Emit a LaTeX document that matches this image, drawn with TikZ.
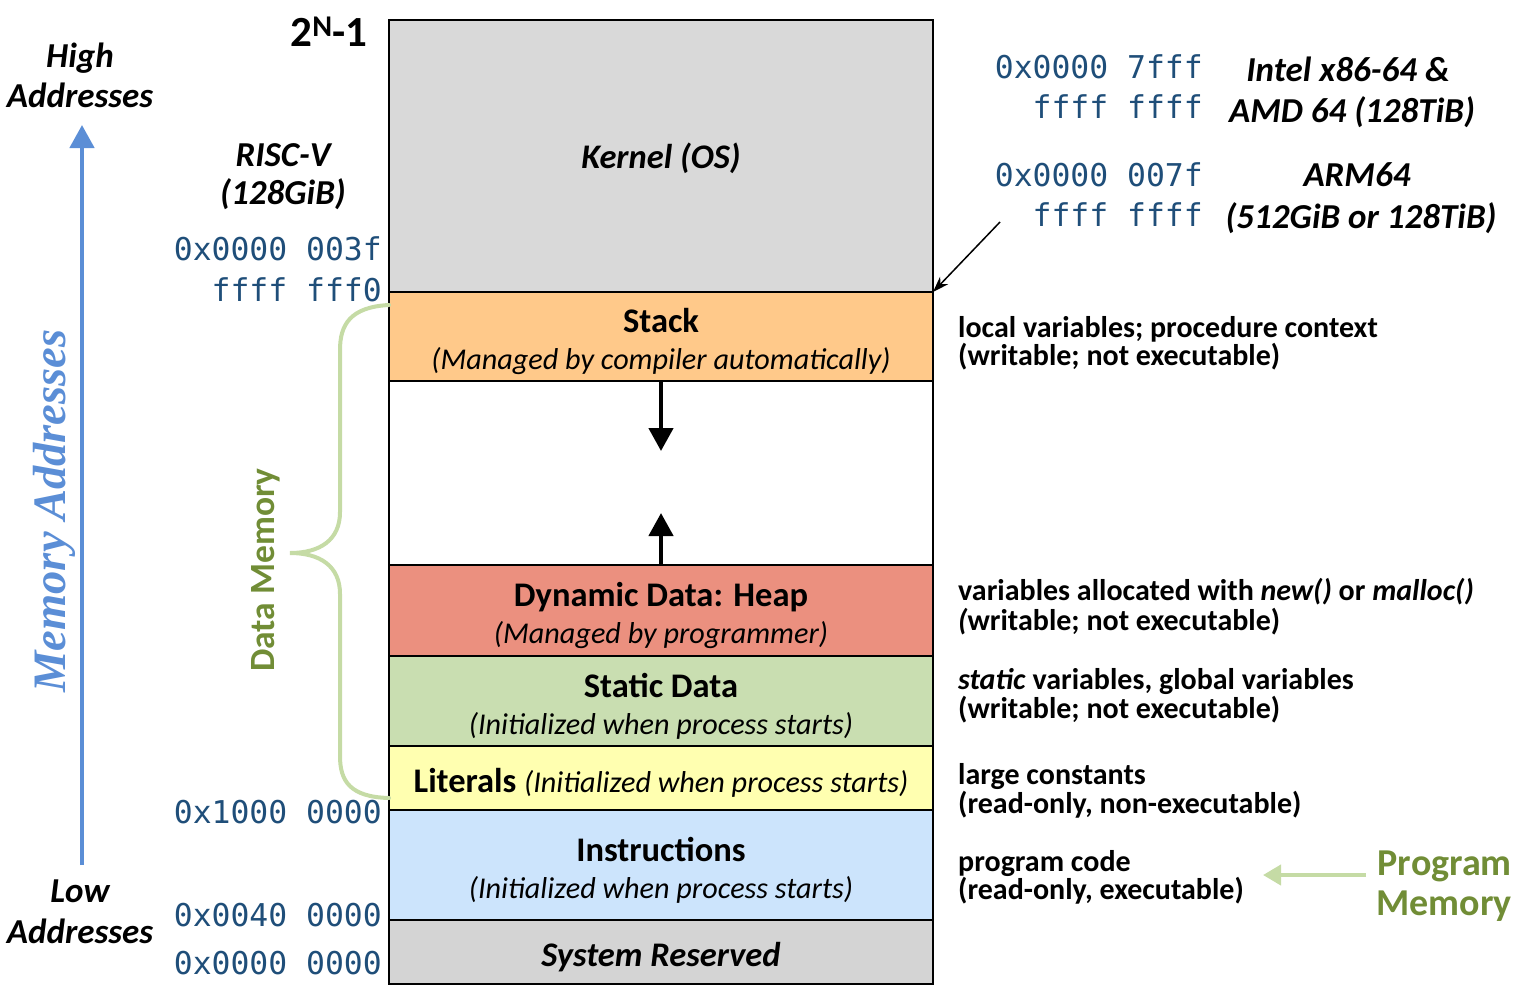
\documentclass[tikz,border=0pt]{standalone}
\usepackage{fontspec}
\setmainfont{Carlito}
\newfontfamily\monof{DejaVu Sans Mono}
\newfontfamily\seriff{Liberation Serif}
\usetikzlibrary{arrows.meta}
\definecolor{kgray}{HTML}{D9D9D9}
\definecolor{sgray}{HTML}{D4D4D4}
\definecolor{stackc}{HTML}{FFC98A}
\definecolor{heapc}{HTML}{EB907F}
\definecolor{staticc}{HTML}{C9DEB1}
\definecolor{litc}{HTML}{FFFFB0}
\definecolor{instrc}{HTML}{CCE4FC}
\definecolor{addrblue}{HTML}{1F4E79}
\definecolor{memblue}{HTML}{5B8ED6}
\definecolor{lgreen}{HTML}{C5DBA5}
\definecolor{dgreen}{HTML}{718D36}
\begin{document}
\begin{tikzpicture}[x=1pt,y=-1pt,
  seg/.style={draw=black, line width=1.8pt, anchor=north west, minimum width=544pt, inner sep=0pt, outer sep=0pt},
  ttl/.style={anchor=base, font=\fontsize{34.5}{40}\selectfont\bfseries, inner sep=0pt},
  sub/.style={anchor=base, font=\fontsize{30.2}{36}\selectfont\itshape, inner sep=0pt},
  desc/.style={anchor=base west, font=\fontsize{30}{36}\selectfont\bfseries, inner sep=0pt},
  addr/.style={anchor=base east, font=\fontsize{31.4}{38}\selectfont\monof, text=addrblue, inner sep=0pt},
  lbl/.style={anchor=base, font=\fontsize{35}{42}\selectfont\bfseries\itshape, inner sep=0pt},
  growarrow/.style={line width=4.5pt, -{Triangle[width=24pt,length=23pt]}},
]
\useasboundingbox (0,0) rectangle (1526,999);

% memory segments
\node[seg, fill=kgray, minimum height=272pt] (kernel) at (389,20) {};
\node[seg, fill=stackc, minimum height=89pt] (stack) at (389,292) {};
\node[seg, fill=white, minimum height=184pt] (gap) at (389,381) {};
\node[seg, fill=heapc, minimum height=91pt] (heap) at (389,565) {};
\node[seg, fill=staticc, minimum height=90pt] (static) at (389,656) {};
\node[seg, fill=litc, minimum height=64pt] (lit) at (389,746) {};
\node[seg, fill=instrc, minimum height=110pt] (instr) at (389,810) {};
\node[seg, fill=sgray, minimum height=64pt] (sys) at (389,920) {};

% segment labels
\node[ttl, font=\fontsize{34.5}{40}\selectfont\bfseries\itshape] (kernelt) at (661,168) {Kernel (OS)};
\node[ttl] (stackt) at (661,332) {Stack};
\node[sub] (stacks) at (661,369) {(Managed by compiler automatically)};
\node[ttl] (heapt) at (661,606) {Dynamic Data: Heap};
\node[sub] (heaps) at (661,643) {(Managed by programmer)};
\node[ttl] (statict) at (661,697) {Static Data};
\node[sub] (statics) at (661,734) {(Initialized when process starts)};
\node[ttl] (litt) at (661,792) {Literals {\fontsize{30.2}{36}\selectfont\mdseries\itshape (Initialized when process starts)}};
\node[ttl] (instrt) at (661,861) {Instructions};
\node[sub] (instrs) at (661,898) {(Initialized when process starts)};
\node[ttl, font=\fontsize{34.5}{40}\selectfont\bfseries\itshape] (syst) at (661,966) {System Reserved};

% growth arrows
\coordinate (downtip) at (661,451);
\coordinate (uptip) at (661,513);
\draw[growarrow] ([yshift=-1pt]stack.south) -- (downtip);
\draw[growarrow] ([yshift=1pt]heap.north) -- (uptip);

% left labels
\node[lbl] (high1) at (80,67) {High};
\node[lbl] (high2) at (80,107) {Addresses};
\node[lbl] (low1) at (80,902) {Low};
\node[lbl] (low2) at (80,943) {Addresses};
\coordinate (axbot) at (82,865);
\coordinate (axtop) at (82,125);
\draw[memblue, line width=4.5pt, -{Triangle[width=24pt,length=23pt]}] (axbot) -- (axtop);
\node[rotate=90, text=memblue, font=\fontsize{46.5}{52}\selectfont\seriff\bfseries\itshape, inner sep=0pt] (memaddr) at (54,511) {Memory Addresses};

\node[anchor=base, font=\fontsize{43}{48}\selectfont\bfseries, inner sep=0pt] (twon) at (329,46) {2\textsuperscript{N}-1};
\node[lbl] (risc1) at (283,166) {RISC-V};
\node[lbl] (risc2) at (283,204) {(128GiB)};

% addresses left
\node[addr] (a1) at (382,260) {0x0000 003f};
\node[addr] (a2) at (382,301) {ffff fff0};
\node[addr] (a3) at (382,823) {0x1000 0000};
\node[addr] (a4) at (382,926) {0x0040 0000};
\node[addr] (a5) at (382,974) {0x0000 0000};

% addresses right top
\node[addr] (r1) at (1203,78) {0x0000 7fff};
\node[addr] (r2) at (1203,118) {ffff ffff};
\node[addr] (r3) at (1203,186) {0x0000 007f};
\node[addr] (r4) at (1203,226) {ffff ffff};
\node[lbl] (intel1) at (1348,81) {Intel x86-64 \&};
\node[lbl] (intel2) at (1352,122) {AMD 64 (128TiB)};
\node[lbl] (arm1) at (1357,186) {ARM64};
\node[lbl] (arm2) at (1361,228) {(512GiB or 128TiB)};
\coordinate (ptrstart) at (1000,222);
\draw[line width=1.5pt, -{Stealth[length=16pt,width=11pt]}] (ptrstart) -- (kernel.south east);

% descriptions
\node[desc] (d1a) at (958,337) {local variables; procedure context};
\node[desc] (d1b) at (958,365) {(writable; not executable)};
\node[desc] (d2a) at (958,600) {variables allocated with \textit{new()} or \textit{malloc()}};
\node[desc] (d2b) at (958,630) {\textit{(}writable; not executable)};
\node[desc] (d3a) at (958,689) {\textit{static} variables, global variables};
\node[desc] (d3b) at (958,718) {(writable; not executable)};
\node[desc] (d4a) at (958,784) {large constants};
\node[desc] (d4b) at (958,813) {(read-only, non-executable)};
\node[desc] (d5a) at (958,871) {program code};
\node[desc] (d5b) at (958,899) {(read-only, executable)};

% program memory
\node[anchor=base east, text=dgreen, font=\fontsize{38}{44}\selectfont\bfseries, inner sep=0pt] (pm1) at (1512,875) {Program};
\node[anchor=base east, text=dgreen, font=\fontsize{38}{44}\selectfont\bfseries, inner sep=0pt] (pm2) at (1512,915) {Memory};
\coordinate (pmstart) at (1366,875);
\coordinate (pmend) at (1263,875);
\draw[lgreen, line width=4pt, -{Triangle[width=20pt,length=18pt]}] (pmstart) -- (pmend);

% data memory brace
\draw[lgreen, line width=4pt, line cap=round]
  (389,305) .. controls (350,307) and (340,325) .. (340,350)
  -- (340,512) .. controls (340,540) and (320,553) .. (290,553)
  .. controls (320,553) and (340,566) .. (340,594)
  -- (340,756) .. controls (340,781) and (350,797) .. (389,798);
\node[rotate=90, text=dgreen, font=\fontsize{35.5}{40}\selectfont\bfseries, inner sep=0pt] (datamem) at (266,570) {Data Memory};
\end{tikzpicture}
\end{document}
